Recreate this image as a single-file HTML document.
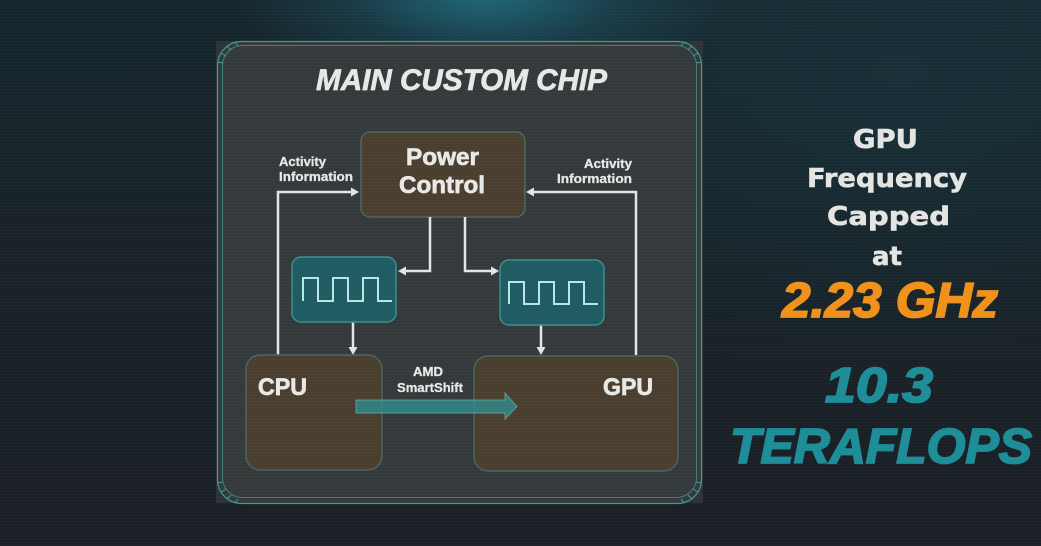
<!DOCTYPE html>
<html><head><meta charset="utf-8"><style>
html,body{margin:0;padding:0;}
body{width:1041px;height:546px;overflow:hidden;position:relative;
background:
radial-gradient(ellipse 250px 105px at 485px -10px, rgba(35,125,145,0.8), rgba(30,100,120,0.32) 55%, rgba(20,60,75,0) 100%),
radial-gradient(ellipse 500px 300px at 900px 80px, rgba(25,60,70,0.45), rgba(25,60,70,0) 100%),
linear-gradient(180deg,#16262d 0%,#182228 45%,#1a2025 100%);}
.scan{position:absolute;left:0;top:0;width:1041px;height:546px;
background:repeating-linear-gradient(0deg,rgba(255,255,255,0.018) 0 1px,rgba(0,0,0,0) 1px 3px);}
svg{position:absolute;left:0;top:0;}
</style></head><body>
<svg width="1041" height="546" viewBox="0 0 1041 546" xmlns="http://www.w3.org/2000/svg">
<!-- chip backing -->
<rect x="216" y="41" width="487" height="462" fill="#2e3335"/>
<rect x="217.5" y="41.5" width="484" height="462" rx="24" fill="#34393b" stroke="#3f9a92" stroke-width="1.2"/>
<rect x="222.5" y="45.5" width="474" height="452" rx="20" fill="none" stroke="#3f9a92" stroke-opacity="0.75" stroke-width="1"/>
<!-- corner ticks -->
<g stroke="#4fb0a6" stroke-width="1" stroke-opacity="0.8">
<line x1="218" y1="62" x2="223" y2="63"/><line x1="221" y1="53" x2="226" y2="56"/><line x1="227" y1="46" x2="231" y2="50"/><line x1="235" y1="42" x2="238" y2="46"/>
<line x1="701" y1="62" x2="696" y2="63"/><line x1="698" y1="53" x2="693" y2="56"/><line x1="692" y1="46" x2="688" y2="50"/><line x1="684" y1="42" x2="681" y2="46"/>
<line x1="218" y1="483" x2="223" y2="482"/><line x1="221" y1="492" x2="226" y2="489"/><line x1="227" y1="499" x2="231" y2="495"/><line x1="235" y1="503" x2="238" y2="499"/>
<line x1="701" y1="483" x2="696" y2="482"/><line x1="698" y1="492" x2="693" y2="489"/><line x1="692" y1="499" x2="688" y2="495"/><line x1="684" y1="503" x2="681" y2="499"/>
</g>
<text x="316" y="90" textLength="291" lengthAdjust="spacingAndGlyphs" font-family="Liberation Sans, sans-serif" font-weight="bold" font-style="italic" font-size="30" fill="#e8e8e6" stroke="#e8e8e6" stroke-width="0.7">MAIN CUSTOM CHIP</text>

<!-- Power Control -->
<rect x="361" y="132" width="164" height="85" rx="9" fill="#4a3e2f" stroke="#4e6660" stroke-width="1.5"/>
<g font-family="Liberation Sans, sans-serif" font-weight="bold" font-size="24" fill="#e8e8e6" stroke="#e8e8e6" stroke-width="0.7">
<text x="406" y="165" textLength="73" lengthAdjust="spacingAndGlyphs">Power</text>
<text x="399" y="193" textLength="86" lengthAdjust="spacingAndGlyphs">Control</text>
</g>

<!-- Activity labels -->
<g font-family="Liberation Sans, sans-serif" font-weight="bold" font-size="13" fill="#e8e8e6" stroke="#e8e8e6" stroke-width="0.3">
<text x="279" y="166" textLength="47" lengthAdjust="spacingAndGlyphs">Activity</text>
<text x="279" y="181" textLength="74" lengthAdjust="spacingAndGlyphs">Information</text>
<text x="584" y="168" textLength="48" lengthAdjust="spacingAndGlyphs">Activity</text>
<text x="557" y="183" textLength="75" lengthAdjust="spacingAndGlyphs">Information</text>
</g>

<!-- connectors -->
<g stroke="#e4e4e4" stroke-width="2.5" fill="none">
<path d="M278,355 V192 H352"/>
<path d="M636,355 V192 H533"/>
<path d="M430,217 V271 H405"/>
<path d="M465,217 V271 H492"/>
<path d="M353,322 V348"/>
<path d="M541,325 V348"/>
</g>
<g fill="#e4e4e4">
<polygon points="359,192 351,187.5 351,196.5"/>
<polygon points="526,192 534,187.5 534,196.5"/>
<polygon points="398,271 406,266.5 406,275.5"/>
<polygon points="499,271 491,266.5 491,275.5"/>
<polygon points="353,355 348.5,347 357.5,347"/>
<polygon points="541,355 536.5,347 545.5,347"/>
</g>

<!-- clock boxes -->
<rect x="292" y="257" width="104" height="65" rx="9" fill="#1f5b62" stroke="#3f8f8c" stroke-width="1.5"/>
<rect x="500" y="260" width="104" height="65" rx="9" fill="#1f5b62" stroke="#3f8f8c" stroke-width="1.5"/>
<path d="M303,301 V278 H318 V301 H333 V278 H348 V301 H363 V278 H378 V301 H392" fill="none" stroke="#b8e6e4" stroke-width="2"/>
<path d="M509,304 V282 H524 V304 H539 V282 H554 V304 H569 V282 H584 V304 H598" fill="none" stroke="#b8e6e4" stroke-width="2"/>

<!-- CPU / GPU -->
<rect x="246" y="355" width="136" height="115" rx="14" fill="#4a3e2f" stroke="#4a6560" stroke-width="1.5"/>
<rect x="474" y="356" width="204" height="115" rx="14" fill="#4a3e2f" stroke="#4a6560" stroke-width="1.5"/>
<g font-family="Liberation Sans, sans-serif" font-weight="bold" font-size="24" fill="#e8e8e6" stroke="#e8e8e6" stroke-width="0.7">
<text x="258" y="395" textLength="49" lengthAdjust="spacingAndGlyphs">CPU</text>
<text x="603" y="395" textLength="50" lengthAdjust="spacingAndGlyphs">GPU</text>
</g>

<g font-family="Liberation Sans, sans-serif" font-weight="bold" font-size="13" fill="#e8e8e6" stroke="#e8e8e6" stroke-width="0.3">
<text x="413" y="376" textLength="30" lengthAdjust="spacingAndGlyphs">AMD</text>
<text x="397" y="392" textLength="66" lengthAdjust="spacingAndGlyphs">SmartShift</text>
</g>

<polygon points="356,400 505,400 505,393 517,406.5 505,419 505,413 356,413" fill="#2f9092" fill-opacity="0.75" stroke="#6ab8b4" stroke-opacity="0.7" stroke-width="1"/>

<!-- right text -->
<g font-family="DejaVu Sans, sans-serif" font-weight="bold" font-size="26" fill="#e4e4e2" stroke="#e4e4e2" stroke-width="0.6">
<text x="853" y="148" textLength="65" lengthAdjust="spacingAndGlyphs">GPU</text>
<text x="807" y="187" textLength="160" lengthAdjust="spacingAndGlyphs">Frequency</text>
<text x="827" y="225" textLength="123" lengthAdjust="spacingAndGlyphs">Capped</text>
<text x="872" y="265" textLength="30" lengthAdjust="spacingAndGlyphs">at</text>
</g>
<g font-family="Liberation Sans, sans-serif" font-weight="bold" font-style="italic" font-size="49" stroke-width="1.8">
<text x="782" y="317" textLength="216" lengthAdjust="spacingAndGlyphs" fill="#f0911a" stroke="#f0911a">2.23 GHz</text>
<text x="825" y="402" textLength="108" lengthAdjust="spacingAndGlyphs" fill="#1d8d98" stroke="#1d8d98">10.3</text>
<text x="730" y="463" textLength="302" lengthAdjust="spacingAndGlyphs" fill="#1d8d98" stroke="#1d8d98">TERAFLOPS</text>
</g>
</svg>
<div class="scan"></div>
</body></html>
